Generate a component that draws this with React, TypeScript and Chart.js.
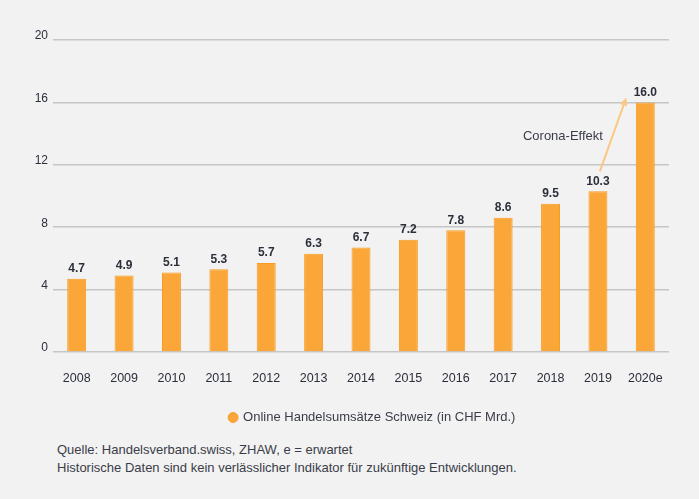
import { useEffect, useRef } from "react";
import Chart from "chart.js/auto";

const years = ["2008", "2009", "2010", "2011", "2012", "2013", "2014", "2015", "2016", "2017", "2018", "2019", "2020e"];
const umsatz = [4.7, 4.9, 5.1, 5.3, 5.7, 6.3, 6.7, 7.2, 7.8, 8.6, 9.5, 10.3, 16.0];
const yTicks = [0, 4, 8, 12, 16, 20];
const seriesLabel = "Online Handelsumsätze Schweiz (in CHF Mrd.)";
const annotationText = "Corona-Effekt";

const FONT = "'Liberation Sans', Arial, sans-serif";

// value labels above the bars + the "Corona-Effekt" arrow
const barExtras = {
  id: "barExtras",
  afterLayout(chart: any) {
    // legend sits a bit right of centre in the original
    const shift = 38;
    chart.legend.left += shift;
    chart.legend.right += shift;
  },
  afterDatasetsDraw(chart: any) {
    const { ctx } = chart;
    const meta = chart.getDatasetMeta(0);
    const xs = chart.scales.x;
    const ys = chart.scales.y;
    ctx.save();
    ctx.font = `bold 12px ${FONT}`;
    ctx.fillStyle = "#2b2f3a";
    ctx.textAlign = "center";
    ctx.textBaseline = "middle";
    meta.data.forEach((bar: any, i: number) => {
      ctx.fillText(umsatz[i].toFixed(1), bar.x, bar.y - 10);
    });

    // arrow from 2019 label towards 2020e
    const last = umsatz.length - 1;
    const x0 = xs.getPixelForValue(last - 1) + 2;
    const y0 = ys.getPixelForValue(umsatz[last - 1]) - 20;
    const x1 = xs.getPixelForValue(last) - 19;
    const y1 = ys.getPixelForValue(umsatz[last]) - 5;
    const ang = Math.atan2(y1 - y0, x1 - x0);
    const head = 9;
    ctx.strokeStyle = "#fcc684";
    ctx.fillStyle = "#fcc684";
    ctx.lineWidth = 2;
    ctx.beginPath();
    ctx.moveTo(x0, y0);
    ctx.lineTo(x1 - Math.cos(ang) * head * 0.7, y1 - Math.sin(ang) * head * 0.7);
    ctx.stroke();
    ctx.beginPath();
    ctx.moveTo(x1, y1);
    ctx.lineTo(x1 - head * Math.cos(ang - 0.42), y1 - head * Math.sin(ang - 0.42));
    ctx.lineTo(x1 - head * Math.cos(ang + 0.42), y1 - head * Math.sin(ang + 0.42));
    ctx.closePath();
    ctx.fill();

    ctx.font = `13px ${FONT}`;
    ctx.fillStyle = "#3a3d48";
    ctx.fillText(annotationText, xs.getPixelForValue(last - 1) - 35, ys.getPixelForValue(13.85));
    ctx.restore();
  },
};

export default function App() {
  const canvasRef = useRef<HTMLCanvasElement | null>(null);

  useEffect(() => {
    document.body.style.margin = "0";
    document.body.style.background = "#f2f2f2";
    if (!canvasRef.current) return;

    const chart = new Chart(canvasRef.current, {
      type: "bar",
      data: {
        labels: years,
        datasets: [
          {
            label: seriesLabel,
            data: umsatz,
            backgroundColor: "#fba639",
            borderColor: "#f89c1f",
            borderWidth: 1,
            barPercentage: 0.4,
            categoryPercentage: 1,
          },
        ],
      },
      options: {
        responsive: false,
        animation: false,
        layout: { padding: { top: 40, right: 30, left: 0, bottom: 0 } },
        plugins: {
          legend: {
            position: "bottom",
            labels: {
              usePointStyle: true,
              pointStyle: "circle",
              boxWidth: 7,
              boxHeight: 7,
              padding: 10,
              color: "#3a3d48",
              font: { size: 13, family: FONT },
            },
          },
          tooltip: { enabled: false },
        },
        scales: {
          x: {
            grid: { display: false },
            border: { display: false },
            ticks: {
              color: "#2b2f3a",
              padding: 11,
              font: { size: 12.5, family: FONT },
            },
            afterFit(scale: any) {
              scale.height = 49;
            },
          },
          y: {
            min: 0,
            max: 20,
            afterBuildTicks(scale: any) {
              scale.ticks = yTicks.map((v) => ({ value: v }));
            },
            grid: { color: "#c6c6c6", lineWidth: 1.5, drawTicks: false },
            border: { display: false },
            ticks: {
              color: "#2b2f3a",
              padding: 5,
              labelOffset: -4,
              font: { size: 12, family: FONT },
            },
            afterFit(scale: any) {
              scale.width = 53;
            },
          },
        },
      },
      plugins: [barExtras],
    });

    return () => chart.destroy();
  }, []);

  return (
    <div style={{ width: 699, height: 499, background: "#f2f2f2", fontFamily: FONT, overflow: "hidden" }}>
      <canvas ref={canvasRef} width={699} height={434} style={{ display: "block" }}></canvas>
      <div style={{ marginTop: 7, marginLeft: 57, fontSize: 13, lineHeight: "18px", color: "#3a3d48" }}>
        <div>Quelle: Handelsverband.swiss, ZHAW, e = erwartet</div>
        <div>Historische Daten sind kein verlässlicher Indikator für zukünftige Entwicklungen.</div>
      </div>
    </div>
  );
}
